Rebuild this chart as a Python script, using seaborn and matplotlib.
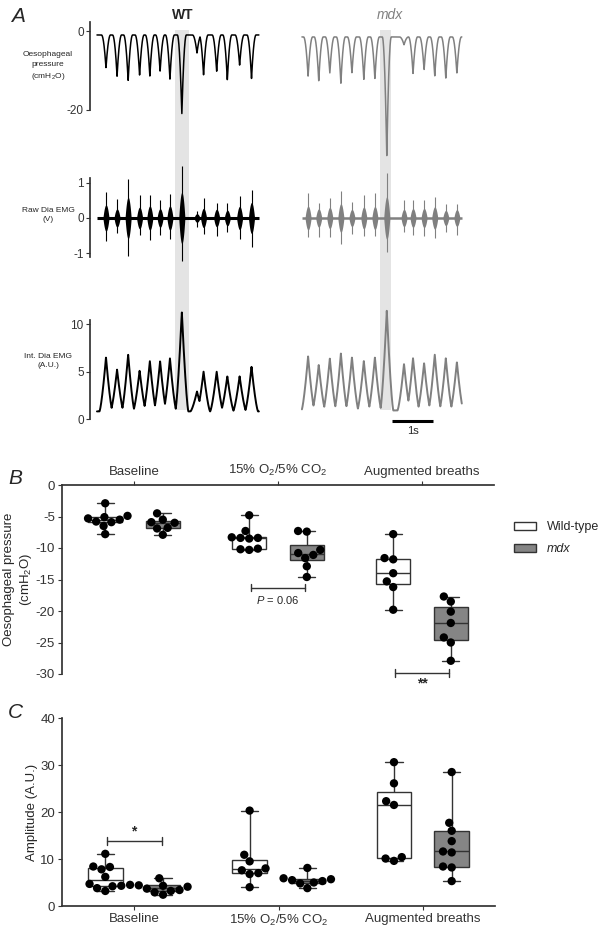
import numpy as np
import pandas as pd
import matplotlib
matplotlib.use("Agg")
import matplotlib.pyplot as plt
import seaborn as sns
from matplotlib.patches import Patch

# Panel A: one value per breath (time in s)
wt_times = [0.22, 0.49, 0.76, 1.04, 1.29, 1.54, 1.78, 2.07, 2.44, 2.60, 2.92, 3.18, 3.48, 3.77]
wt_pes = [-9.4, -11.5, -12.7, -11.3, -11.5, -10.3, -12.3, -21.3, -5.6, -11.2, -10.3, -12.5, -8.7, -12.1]
wt_emg_pos = [0.73, 0.53, 1.10, 0.65, 0.65, 0.50, 0.67, 1.46, 0.20, 0.56, 0.42, 0.42, 0.62, 0.80]
wt_emg_neg = [-0.65, -0.42, -1.07, -0.48, -0.62, -0.48, -0.60, -1.23, -0.25, -0.45, -0.50, -0.40, -0.60, -0.82]
wt_int = [6.5, 5.2, 6.8, 5.1, 6.1, 6.1, 6.4, 11.3, 2.9, 5.0, 5.0, 4.5, 4.5, 5.5]

mdx_times = [0.15, 0.41, 0.68, 0.95, 1.22, 1.51, 1.78, 2.07, 2.49, 2.71, 2.98, 3.24, 3.51, 3.78]
mdx_pes = [-11.5, -12.7, -10.8, -13.3, -10.7, -12.3, -12.2, -31.7, -3.5, -10.8, -9.9, -11.5, -12.0, -10.8]
mdx_emg_pos = [0.71, 0.42, 0.57, 0.76, 0.45, 0.65, 0.71, 1.27, 0.51, 0.51, 0.51, 0.60, 0.40, 0.40]
mdx_emg_neg = [-0.54, -0.54, -0.54, -0.74, -0.45, -0.50, -0.50, -0.96, -0.40, -0.48, -0.50, -0.57, -0.40, -0.48]
mdx_int = [6.6, 5.7, 6.4, 6.9, 6.5, 6.1, 6.5, 11.4, 5.8, 6.4, 5.9, 6.8, 6.4, 6.0]

# Panel B: oesophageal pressure (cmH2O)
wt_base_B = [-2.9, -4.9, -5.1, -5.3, -5.5, -5.8, -5.9, -6.5, -7.8]
mdx_base_B = [-4.5, -5.5, -5.9, -6.0, -6.8, -6.9, -7.9]
wt_hyp_B = [-4.8, -7.3, -8.3, -8.4, -8.4, -8.5, -10.1, -10.2, -10.3]
mdx_hyp_B = [-7.3, -7.4, -10.3, -10.8, -11.1, -11.6, -12.9, -14.6]
wt_aug_B = [-7.8, -11.6, -11.8, -14.0, -15.3, -16.2, -19.8]
mdx_aug_B = [-17.7, -18.5, -20.1, -21.9, -24.2, -25.0, -27.9]

# Panel C: amplitude (A.U.)
wt_base_C = [11.1, 8.4, 8.3, 7.8, 6.2, 4.7, 4.3, 4.2, 3.8, 3.2]
mdx_base_C = [5.9, 4.5, 4.4, 4.3, 4.1, 3.7, 3.4, 3.2, 2.9, 2.4]
wt_hyp_C = [20.3, 10.9, 9.5, 8.0, 7.6, 7.0, 6.8, 4.0]
mdx_hyp_C = [8.1, 5.9, 5.7, 5.5, 5.3, 5.0, 4.8, 3.8]
wt_aug_C = [30.6, 26.1, 22.3, 21.5, 10.4, 10.1, 9.6]
mdx_aug_C = [28.5, 17.7, 16.0, 13.8, 11.6, 11.4, 8.4, 8.2, 5.3]

conditions = ["Baseline", "Hypercapnia", "Augmented"]
cond_labels = ["Baseline", "15% O$_2$/5% CO$_2$", "Augmented breaths"]
genotypes = ["Wild-type", "mdx"]

GREY = "#808080"
BOXGREY = "#858585"
EDGE = "#333333"
SHADE = "#e4e4e4"

sns.set_theme(style="ticks")
plt.rcParams['font.family'] = ['Liberation Sans', 'DejaVu Sans']
plt.rcParams['mathtext.fontset'] = 'custom'
plt.rcParams['mathtext.rm'] = 'Liberation Sans'
plt.rcParams['mathtext.it'] = 'Liberation Sans:italic'
plt.rcParams['axes.unicode_minus'] = False
plt.rcParams['axes.edgecolor'] = EDGE
plt.rcParams['xtick.color'] = EDGE
plt.rcParams['ytick.color'] = EDGE

W, H = 600, 930


def box(x0, y0, x1, y1):
    # pixel box -> figure fraction [left, bottom, width, height]
    return [x0 / W, 1 - y1 / H, (x1 - x0) / W, (y1 - y0) / H]


def pulse(t, tc, w, p):
    return np.clip(1 - np.abs(t - tc) / w, 0, None) ** p


def breath_train(t, times, peaks, base, w, p):
    # each breath drawn as a pointed pulse from the baseline to its peak value
    dev = np.zeros_like(t)
    for tc, pk in zip(times, peaks):
        d = (pk - base) * pulse(t, tc, w, p)
        dev = np.where(np.abs(d) > np.abs(dev), d, dev)
    return base + dev


def emg_bursts(ax, t, t0, times, pos, neg, color, base_lw):
    env = np.zeros_like(t)
    for tc, p, n in zip(times, pos, neg):
        half = 0.27 * (p - n)
        env = np.maximum(env, half * np.clip(1 - ((t - tc) / 0.075) ** 2, 0, None))
    ax.fill_between(t + t0, -env, env, color=color, lw=0)
    ax.vlines(np.array(times) + t0, neg, pos, color=color, lw=0.8)
    ax.plot([t[0] + t0, t[-1] + t0], [0, 0], color=color, lw=base_lw, solid_capstyle='butt')


fig = plt.figure(figsize=(6, 9.3), dpi=100)

# ---------------- Panel A ----------------
xlim_A = (-0.17, 9.1)
mdx_t0 = 5.0
t_wt = np.linspace(0, 3.95, 2000)
t_mdx = np.linspace(0, 3.9, 2000)

ax_shade = fig.add_axes(box(90, 20, 470, 425))
ax_shade.set_xlim(*xlim_A)
ax_shade.set_ylim(0, 1)
ax_shade.axis('off')
ax_shade.axvspan(1.90, 2.24, 0.037, 0.975, color=SHADE, lw=0)
ax_shade.axvspan(6.90, 7.17, 0.037, 0.975, color=SHADE, lw=0)

axP = fig.add_axes(box(90, 22, 470, 161.5))
axR = fig.add_axes(box(90, 165, 470, 266))
axI = fig.add_axes(box(90, 307, 470, 419))

axP.plot(t_wt, breath_train(t_wt, wt_times, wt_pes, -1.0, 0.11, 2.0), color='black', lw=1.1)
axP.plot(t_mdx + mdx_t0, breath_train(t_mdx, mdx_times, mdx_pes, -1.5, 0.11, 2.0), color=GREY, lw=1.1)
axP.set_ylim(-33.2, 2.3)
axP.set_yticks([0, -20])
axP.spines['left'].set_bounds(-20, 2.3)

emg_bursts(axR, t_wt, 0, wt_times, wt_emg_pos, wt_emg_neg, 'black', 2.2)
emg_bursts(axR, t_mdx, mdx_t0, mdx_times, mdx_emg_pos, mdx_emg_neg, GREY, 1.8)
axR.set_ylim(-1.36, 1.5)
axR.set_yticks([-1, 0, 1])
axR.spines['left'].set_bounds(-1.1, 1.13)

axI.plot(t_wt, breath_train(t_wt, wt_times, wt_int, 0.8, 0.16, 1.4), color='black', lw=1.4)
axI.plot(t_mdx + mdx_t0, breath_train(t_mdx, mdx_times, mdx_int, 0.9, 0.16, 1.4), color=GREY, lw=1.4)
axI.set_ylim(0, 11.8)
axI.set_yticks([0, 5, 10])
axI.spines['left'].set_bounds(0, 10.4)
# 1 s scale bar
axI.plot([7.2, 8.2], [-0.2, -0.2], color='black', lw=2.2, clip_on=False, solid_capstyle='butt')
axI.text(7.7, -0.75, "1s", ha='center', va='top', fontsize=8)

for ax in (axP, axR, axI):
    ax.set_xlim(*xlim_A)
    ax.patch.set_visible(False)
    sns.despine(ax=ax, bottom=True)
    ax.set_xticks([])
    ax.tick_params(axis='y', labelsize=8.5, length=3, width=0.8, pad=1.5)

fig.text(18 / W, 1 - 16 / H, "A", fontsize=15, style='italic', ha='center', va='center')
fig.text(183 / W, 1 - 15 / H, "WT", fontsize=10, fontweight='bold', ha='center', va='center')
fig.text(390 / W, 1 - 15 / H, "mdx", fontsize=10, style='italic', color=GREY, ha='center', va='center')
fig.text(48 / W, 1 - 67 / H, "Oesophageal\npressure\n(cmH$_2$O)", fontsize=6, ha='center', va='center',
         linespacing=1.5)
fig.text(48 / W, 1 - 215 / H, "Raw Dia EMG\n(V)", fontsize=6, ha='center', va='center', linespacing=1.5)
fig.text(48 / W, 1 - 361 / H, "Int. Dia EMG\n(A.U.)", fontsize=6, ha='center', va='center', linespacing=1.5)


# ---------------- Panels B and C ----------------
def long_table(groups):
    rows = []
    for cond, geno, vals in groups:
        for v in vals:
            rows.append({"condition": cond, "genotype": geno, "value": v})
    return pd.DataFrame(rows)


dfB = long_table([
    ("Baseline", "Wild-type", wt_base_B), ("Baseline", "mdx", mdx_base_B),
    ("Hypercapnia", "Wild-type", wt_hyp_B), ("Hypercapnia", "mdx", mdx_hyp_B),
    ("Augmented", "Wild-type", wt_aug_B), ("Augmented", "mdx", mdx_aug_B),
])
dfC = long_table([
    ("Baseline", "Wild-type", wt_base_C), ("Baseline", "mdx", mdx_base_C),
    ("Hypercapnia", "Wild-type", wt_hyp_C), ("Hypercapnia", "mdx", mdx_hyp_C),
    ("Augmented", "Wild-type", wt_aug_C), ("Augmented", "mdx", mdx_aug_C),
])


def box_swarm(ax, df):
    sns.boxplot(data=df, x="condition", y="value", hue="genotype", order=conditions,
                hue_order=genotypes, palette={"Wild-type": "white", "mdx": BOXGREY},
                whis=(0, 100), gap=0.4, linewidth=1.0, linecolor=EDGE, showfliers=False,
                legend=False, ax=ax)
    sns.swarmplot(data=df, x="condition", y="value", hue="genotype", order=conditions,
                  hue_order=genotypes, palette={"Wild-type": "black", "mdx": "black"},
                  dodge=True, size=6, legend=False, ax=ax)
    ax.set_xlim(-0.5, 2.5)
    ax.set_xlabel("")
    ax.tick_params(labelsize=9.5, length=3, width=0.8, pad=2)


def bracket(ax, x0, x1, y, tick, text, ty, va, **kw):
    ax.plot([x0, x1], [y, y], color=EDGE, lw=1, clip_on=False)
    ax.plot([x0, x0], [y - tick, y + tick], color=EDGE, lw=1, clip_on=False)
    ax.plot([x1, x1], [y - tick, y + tick], color=EDGE, lw=1, clip_on=False)
    ax.text((x0 + x1) / 2, ty, text, ha='center', va=va, clip_on=False, **kw)


axB = fig.add_axes(box(62, 485, 494, 674))
box_swarm(axB, dfB)
axB.set_ylim(-30, 0)
axB.set_yticks(range(0, -31, -5))
axB.xaxis.tick_top()
axB.set_xticks(range(3))
axB.set_xticklabels(cond_labels)
axB.spines['bottom'].set_visible(False)
axB.spines['right'].set_visible(False)
axB.spines['top'].set_visible(True)
axB.set_ylabel("Oesophageal pressure\n(cmH$_2$O)", fontsize=9.5, linespacing=1.3)
axB.yaxis.set_label_coords(-0.065, 0.5)
bracket(axB, 0.81, 1.19, -16.3, 0.6, "$P$ = 0.06", -17.3, 'top', fontsize=8)
bracket(axB, 1.81, 2.19, -29.8, 0.6, "**", -30.4, 'top', fontsize=10, fontweight='bold')

axC = fig.add_axes(box(62, 718, 495, 906))
box_swarm(axC, dfC)
axC.set_ylim(0, 40)
axC.set_yticks(range(0, 41, 10))
axC.set_xticks(range(3))
axC.set_xticklabels(cond_labels)
sns.despine(ax=axC)
axC.set_ylabel("Amplitude (A.U.)", fontsize=9.5)
axC.yaxis.set_label_coords(-0.055, 0.5)
bracket(axC, -0.19, 0.19, 13.9, 0.85, "*", 14.3, 'bottom', fontsize=10, fontweight='bold')

fig.text(15 / W, 1 - 478 / H, "B", fontsize=15, style='italic', ha='center', va='center')
fig.text(15 / W, 1 - 712 / H, "C", fontsize=15, style='italic', ha='center', va='center')

handles = [Patch(facecolor='white', edgecolor=EDGE, lw=1), Patch(facecolor=BOXGREY, edgecolor=EDGE, lw=1)]
leg = fig.legend(handles, genotypes, loc='center left', bbox_to_anchor=(505 / W, 1 - 538 / H),
                 frameon=False, fontsize=9, handlelength=1.75, handleheight=0.6,
                 handletextpad=0.9, labelspacing=0.8, borderpad=0.2)
leg.get_texts()[1].set_style('italic')

fig.savefig("out.png", dpi=100)
